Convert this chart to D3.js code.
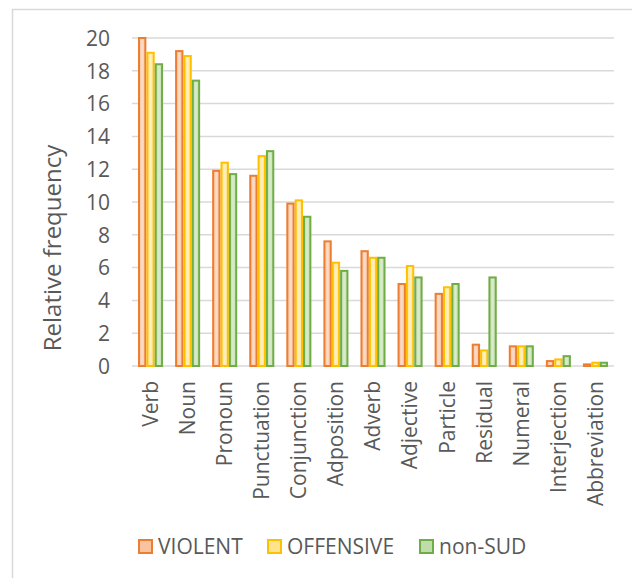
<!DOCTYPE html>
<html>
<head>
<meta charset="utf-8">
<script src="https://cdn.jsdelivr.net/npm/d3@7"></script>
<style>
  body { margin: 0; background: #fff; }
  text { font-family: "Open Sans", sans-serif; fill: #595959; }
</style>
</head>
<body>
<script>
// data
const categories = ["Verb", "Noun", "Pronoun", "Punctuation", "Conjunction", "Adposition",
  "Adverb", "Adjective", "Particle", "Residual", "Numeral", "Interjection", "Abbreviation"];
const seriesNames = ["VIOLENT", "OFFENSIVE", "non-SUD"];
const violent   = [20.0, 19.2, 11.9, 11.6, 9.9, 7.6, 7.0, 5.0, 4.4, 1.3, 1.2, 0.3, 0.1];
const offensive = [19.1, 18.9, 12.4, 12.8, 10.1, 6.3, 6.6, 6.1, 4.8, 0.95, 1.2, 0.4, 0.2];
const nonSud    = [18.4, 17.4, 11.7, 13.1, 9.1, 5.8, 6.6, 5.4, 5.0, 5.4, 1.2, 0.6, 0.2];
const yTicks = [0, 2, 4, 6, 8, 10, 12, 14, 16, 18, 20];

const values = [violent, offensive, nonSud];
const strokes = ["#ED7D31", "#FFC000", "#70AD47"];
const fillsEdge = ["#F7C3A0", "#FFE48F", "#BFDCAB"];
const fillsMid = ["#FBDDC9", "#FFF0BF", "#DAEDCD"];

const W = 632, H = 578;
const svg = d3.select("body").append("svg").attr("width", W).attr("height", H);

const defs = svg.append("defs");
seriesNames.forEach((s, i) => {
  const g = defs.append("linearGradient").attr("id", "grad" + i)
    .attr("x1", "0%").attr("x2", "100%").attr("y1", "0%").attr("y2", "0%");
  g.append("stop").attr("offset", "0%").attr("stop-color", fillsEdge[i]);
  g.append("stop").attr("offset", "50%").attr("stop-color", fillsMid[i]);
  g.append("stop").attr("offset", "100%").attr("stop-color", fillsEdge[i]);
});

// chart frame
svg.append("rect").attr("x", 12.5).attr("y", 9.5).attr("width", 700).attr("height", 700)
  .attr("fill", "none").attr("stroke", "#D9D9D9").attr("stroke-width", 1.5);

const plotL = 132, plotR = 614, plotT = 38, plotB = 366;

const x0 = d3.scaleBand().domain(categories).range([plotL, plotR]).padding(0);
const x1 = d3.scaleBand().domain(d3.range(3)).range([0, x0.bandwidth()]).paddingOuter(0.72);
const y = d3.scaleLinear().domain([0, 20]).range([plotB, plotT]);

// gridlines
svg.append("g").selectAll("line").data(yTicks).enter().append("line")
  .attr("x1", plotL).attr("x2", plotR)
  .attr("y1", d => y(d)).attr("y2", d => y(d))
  .attr("stroke", "#D9D9D9").attr("stroke-width", 1.5);

// y axis labels
const yAxis = svg.append("g").attr("transform", `translate(${plotL - 22},0)`)
  .call(d3.axisLeft(y).tickValues(yTicks).tickSize(0).tickPadding(0));
yAxis.select(".domain").remove();
yAxis.selectAll("text").style("font-size", "21px").attr("fill", "#595959").attr("dy", "0.35em");

// bars
const groups = svg.append("g").selectAll("g").data(categories).enter().append("g")
  .attr("transform", d => `translate(${x0(d)},0)`);
groups.selectAll("rect").data((c, ci) => values.map((v, si) => ({ si, v: v[ci] })))
  .enter().append("rect")
  .attr("x", d => x1(d.si) + 1)
  .attr("width", x1.bandwidth() - 2)
  .attr("y", d => y(d.v))
  .attr("height", d => y(0) - y(d.v))
  .attr("fill", d => `url(#grad${d.si})`)
  .attr("stroke", d => strokes[d.si])
  .attr("stroke-width", 2);

// x axis labels
const xAxis = svg.append("g").attr("transform", `translate(0,${plotB + 15})`)
  .call(d3.axisBottom(x0).tickSize(0).tickPadding(0));
xAxis.select(".domain").remove();
xAxis.selectAll("text")
  .style("font-size", "21px")
  .attr("fill", "#595959")
  .attr("text-anchor", "end")
  .attr("transform", "rotate(-90)")
  .attr("x", 0).attr("y", 0).attr("dy", "0.35em");

// y title
svg.append("text")
  .attr("transform", `translate(53,248) rotate(-90)`)
  .attr("text-anchor", "middle").attr("dy", "0.35em")
  .style("font-size", "24px")
  .text("Relative frequency");

// legend
const legendX = [139, 268, 420];
const leg = svg.append("g").selectAll("g").data(seriesNames).enter().append("g")
  .attr("transform", (d, i) => `translate(${legendX[i]},540)`);
leg.append("rect").attr("width", 13).attr("height", 13)
  .attr("fill", (d, i) => fillsEdge[i]).attr("stroke", (d, i) => strokes[i]).attr("stroke-width", 2);
leg.append("text").attr("x", 19).attr("y", 7).attr("dy", "0.35em")
  .style("font-size", "21px").text(d => d);
</script>
</body>
</html>
